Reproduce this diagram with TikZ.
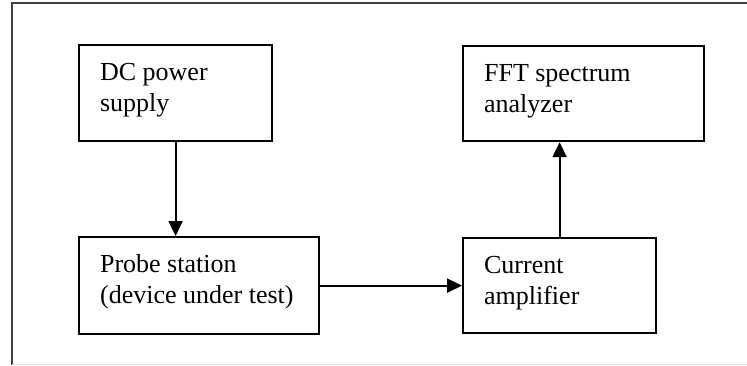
\documentclass[tikz,border=0pt]{standalone}
\usepackage{fontspec}
\setmainfont{Liberation Serif}
\usetikzlibrary{arrows.meta}
\newcommand{\bxtext}[3]{\parbox[b][#2][t]{#1}{\fontsize{26pt}{31pt}\selectfont\leftskip=21pt\rule{0pt}{35.5pt}#3}}
\begin{document}
\begin{tikzpicture}[x=1pt,y=-1pt,
  box/.style={draw, line width=2.2pt, inner sep=0pt, anchor=north west},
  conn/.style={line width=2.2pt, -{Triangle[length=15pt,width=14pt]}}]
\useasboundingbox (0,0) rectangle (747,365);
\draw[line width=2.2pt, black!75] (12,365) -- (12,3) -- (747,3);
\draw[line width=1pt, black!12] (12,364) -- (747,364);
\node[box] (dc) at (78,44) {\bxtext{193pt}{96pt}{DC power\\supply}};
\node[box] (probe) at (78,236) {\bxtext{240pt}{97pt}{Probe station\\(device under test)}};
\node[box] (fft) at (462,45) {\bxtext{241pt}{95pt}{FFT spectrum\\analyzer}};
\node[box] (amp) at (462,237) {\bxtext{193pt}{95pt}{Current\\amplifier}};
\draw[conn] (dc.south) -- (dc.south |- probe.north);
\draw[conn] (probe.east) -- (probe.east -| amp.west);
\draw[conn] (amp.north) -- (amp.north |- fft.south);
\end{tikzpicture}
\end{document}
